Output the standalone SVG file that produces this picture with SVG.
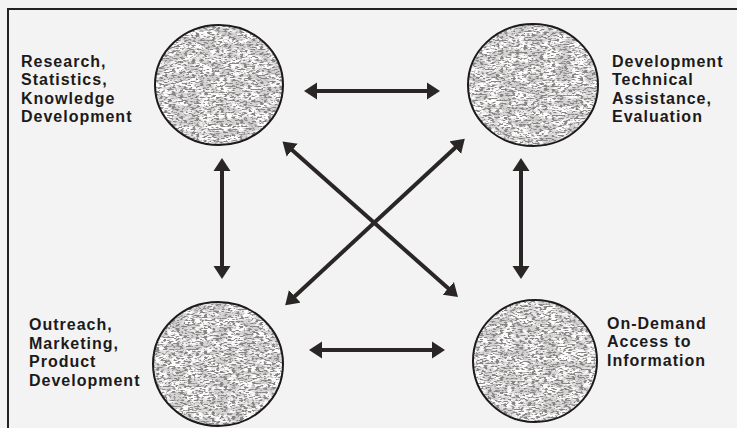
<svg xmlns="http://www.w3.org/2000/svg" width="737" height="428" viewBox="0 0 737 428">
<style>
.lbl{font-family:"Liberation Sans",Arial,sans-serif;font-weight:bold;font-size:16px;letter-spacing:1px;fill:#1c1a1a}
.ring{fill:none;stroke:#1c1a1a;stroke-width:2}
.base{fill:#d4d4d4}
.spk{fill:#fff;filter:url(#stip)}
.spk2{fill:#fff;filter:url(#stip2)}
.arr{stroke:#2a2626;stroke-width:4;fill:none;marker-start:url(#ah);marker-end:url(#ah)}
</style>
<defs>
<marker id="ah" markerUnits="userSpaceOnUse" viewBox="0 -9 14 18" refX="1" refY="0" markerWidth="14" markerHeight="18" orient="auto-start-reverse">
<path d="M0,-8.5 L13,0 L0,8.5 z" fill="#2a2626"/>
</marker>
<filter id="stip" x="-5%" y="-5%" width="110%" height="110%">
<feTurbulence type="fractalNoise" baseFrequency="0.25 0.65" numOctaves="3" seed="4" result="n"/>
<feColorMatrix in="n" type="matrix" values="0 0 0 0 0.25  0 0 0 0 0.23  0 0 0 0 0.23  6 0 0 0 -2.85" result="s"/>
<feComposite in="s" in2="SourceGraphic" operator="in"/>
</filter>
<filter id="stip2" x="-5%" y="-5%" width="110%" height="110%">
<feTurbulence type="fractalNoise" baseFrequency="0.07 0.16" numOctaves="3" seed="11" result="n"/>
<feColorMatrix in="n" type="matrix" values="0 0 0 0 1  0 0 0 0 1  0 0 0 0 1  0 5 0 0 -2.0" result="s"/>
<feComposite in="s" in2="SourceGraphic" operator="in"/>
</filter>
</defs>
<rect width="737" height="428" fill="#f3f3f3"/>
<g id="frame">
<path d="M8,428 L8,9 L737,9" fill="none" stroke="#222" stroke-width="2"/>
</g>
<g id="connectors">
<line class="arr" x1="316" y1="91" x2="428" y2="91"/>
<line class="arr" x1="321" y1="350" x2="433" y2="350"/>
<line class="arr" x1="222" y1="170" x2="222" y2="267"/>
<line class="arr" x1="521" y1="170" x2="521" y2="267"/>
<line class="arr" x1="291.5" y1="149.5" x2="449" y2="289"/>
<line class="arr" x1="456" y1="147" x2="294" y2="297"/>
</g>
<g id="node-research">
<ellipse class="base" cx="219" cy="85" rx="64" ry="60"/>
<ellipse class="spk2" cx="219" cy="85" rx="64" ry="60"/>
<ellipse class="spk" cx="219" cy="85" rx="64" ry="60"/>
<ellipse class="ring" cx="219" cy="85" rx="64" ry="60"/>
<text class="lbl" x="21" y="67">Research,</text>
<text class="lbl" x="21" y="85">Statistics,</text>
<text class="lbl" x="21" y="103.5">Knowledge</text>
<text class="lbl" x="21" y="122">Development</text>
</g>
<g id="node-technical">
<ellipse class="base" cx="533" cy="85" rx="65" ry="61"/>
<ellipse class="spk2" cx="533" cy="85" rx="65" ry="61"/>
<ellipse class="spk" cx="533" cy="85" rx="65" ry="61"/>
<ellipse class="ring" cx="533" cy="85" rx="65" ry="61"/>
<text class="lbl" x="612" y="67">Development</text>
<text class="lbl" x="612" y="85">Technical</text>
<text class="lbl" x="612" y="103.5">Assistance,</text>
<text class="lbl" x="612" y="122">Evaluation</text>
</g>
<g id="node-outreach">
<ellipse class="base" cx="218" cy="364" rx="65" ry="62"/>
<ellipse class="spk2" cx="218" cy="364" rx="65" ry="62"/>
<ellipse class="spk" cx="218" cy="364" rx="65" ry="62"/>
<ellipse class="ring" cx="218" cy="364" rx="65" ry="62"/>
<text class="lbl" x="29" y="330">Outreach,</text>
<text class="lbl" x="29" y="348.5">Marketing,</text>
<text class="lbl" x="29" y="367">Product</text>
<text class="lbl" x="29" y="385.5">Development</text>
</g>
<g id="node-ondemand">
<ellipse class="base" cx="535" cy="361" rx="62" ry="61"/>
<ellipse class="spk2" cx="535" cy="361" rx="62" ry="61"/>
<ellipse class="spk" cx="535" cy="361" rx="62" ry="61"/>
<ellipse class="ring" cx="535" cy="361" rx="62" ry="61"/>
<text class="lbl" x="607" y="328.5">On-Demand</text>
<text class="lbl" x="607" y="347">Access to</text>
<text class="lbl" x="607" y="365.5">Information</text>
</g>
</svg>
